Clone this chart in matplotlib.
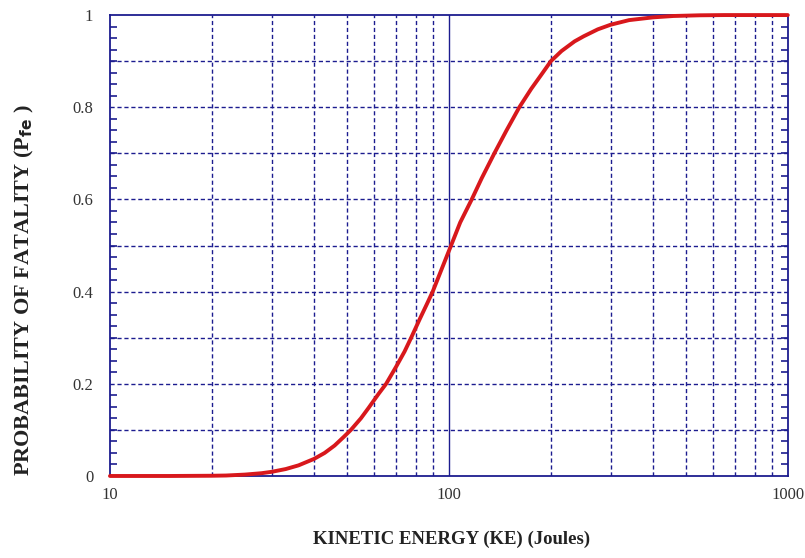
import matplotlib.pyplot as plt
from matplotlib.ticker import FixedLocator, NullFormatter, MultipleLocator

# valores
energia = [10, 15, 20, 22, 25, 28, 30, 33, 36, 40, 43, 46, 49, 51.4, 55, 58, 62,
           65.3, 70, 74, 77.4, 82, 86, 89.6, 95, 101.5, 108, 116.8, 125, 136.2,
           148, 161.4, 175, 188, 200, 215, 235, 250, 275, 300, 340, 400, 460,
           550, 650, 800, 1000]
prob_fatal = [0.0, 0.0, 0.0005, 0.001, 0.003, 0.006, 0.009, 0.015, 0.023, 0.037,
              0.05, 0.066, 0.085, 0.1, 0.125, 0.148, 0.178, 0.2, 0.238, 0.27, 0.3,
              0.34, 0.372, 0.4, 0.447, 0.5, 0.55, 0.6, 0.646, 0.7, 0.75, 0.8,
              0.84, 0.872, 0.9, 0.922, 0.943, 0.954, 0.969, 0.979, 0.989, 0.995,
              0.998, 0.9995, 1.0, 1.0, 1.0]

xticks = [10, 100, 1000]
xtick_labels = ['10', '100', '1000']
yticks = [0, 0.2, 0.4, 0.6, 0.8, 1.0]
ytick_labels = ['0', '0.2', '0.4', '0.6', '0.8', '1']

azul = '#1c1c8f'
rojo = '#d8181c'
fuente = 'Liberation Serif'

fig = plt.figure(figsize=(8.05, 5.58), dpi=100)
ax = fig.add_axes([0.1366, 0.147, 0.842, 0.826])

ax.set_xscale('log')
ax.set_xlim(10, 1000)
ax.set_ylim(0, 1)

# rejilla: lineas menores punteadas, la de 100 continua
menores = [m * d for d in (10, 100) for m in range(2, 10)]
for x in menores:
    ax.axvline(x, color=azul, lw=1, ls=(0, (3, 2)), zorder=1)
ax.axvline(100, color=azul, lw=1, zorder=1)
for y in [0.1 * i for i in range(1, 10)]:
    ax.axhline(y, color=azul, lw=1, ls=(0, (3, 2)), zorder=1)

ax.plot(energia, prob_fatal, color=rojo, lw=2.8, zorder=3, clip_on=False,
        solid_joinstyle='round', solid_capstyle='round')

for s in ax.spines.values():
    s.set_color(azul)
    s.set_linewidth(1.3)

ax.xaxis.set_major_locator(FixedLocator(xticks))
ax.set_xticklabels(xtick_labels)
ax.xaxis.set_minor_locator(FixedLocator(menores))
ax.xaxis.set_minor_formatter(NullFormatter())
ax.set_yticks(yticks)
ax.set_yticklabels(ytick_labels)
ax.yaxis.set_minor_locator(MultipleLocator(0.025))

ax.tick_params(axis='x', which='both', length=0, pad=8, labelsize=12, colors='#333333')
ax.tick_params(axis='y', which='major', length=0, pad=12, labelsize=12, colors='#333333')
ax.tick_params(axis='y', which='minor', direction='in', length=5, width=1.2,
               color=azul, left=True, right=True)
for lab in ax.get_xticklabels() + ax.get_yticklabels():
    lab.set_fontfamily(fuente)

fig.text(0.561, 0.018, 'KINETIC ENERGY (KE) (Joules)', ha='center', va='bottom',
         fontsize=13.5, fontweight='bold', family=fuente, color='#222222')
fig.text(0.03, 0.48, 'PROBABILITY OF FATALITY (P$_{\\mathbf{fe}}$ )', rotation=90,
         ha='center', va='center', fontsize=16, fontweight='bold', family=fuente,
         color='#222222')

fig.savefig('out.png', dpi=100)
